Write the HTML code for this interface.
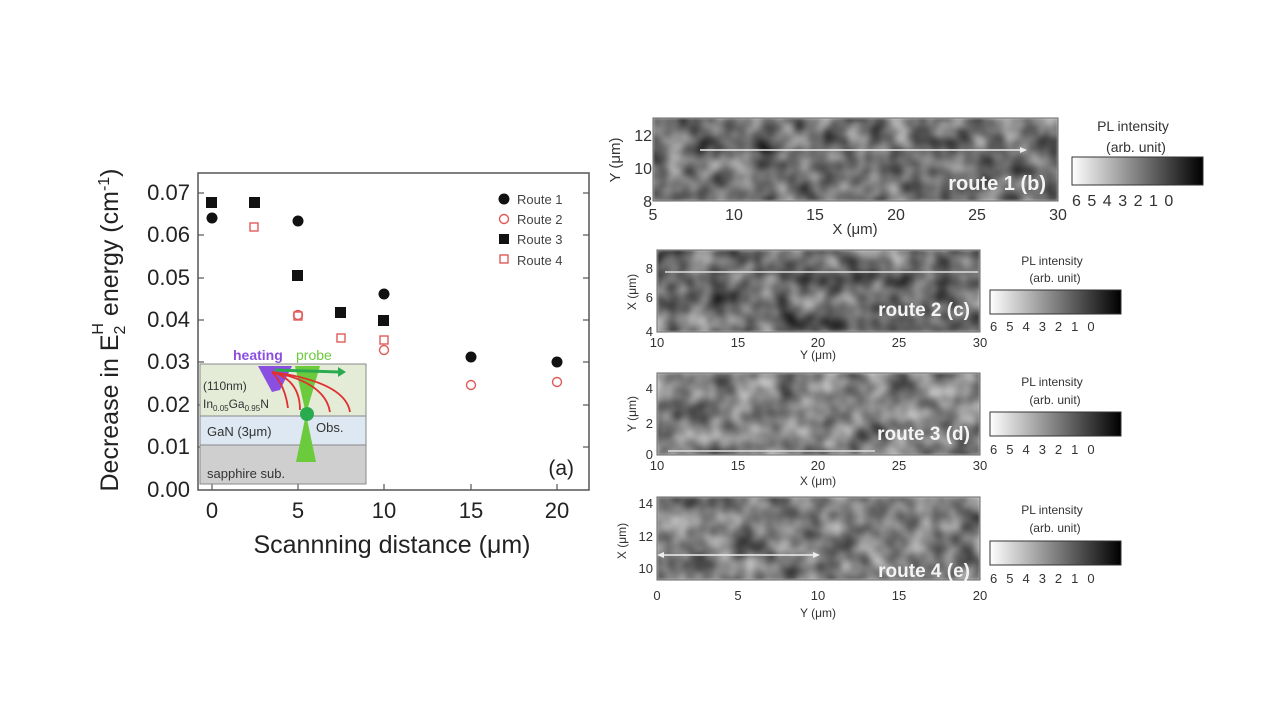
<!DOCTYPE html>
<html><head><meta charset="utf-8"><style>
html,body{margin:0;padding:0;background:#fff;}
svg{display:block;font-family:"Liberation Sans",Arial,sans-serif;}
</style></head><body>
<svg width="1280" height="720" viewBox="0 0 1280 720" xmlns="http://www.w3.org/2000/svg">
<defs>
<filter id="noise" x="0" y="0" width="100%" height="100%" color-interpolation-filters="sRGB">
<feTurbulence type="fractalNoise" baseFrequency="0.045" numOctaves="2" seed="5" result="t"/>
<feColorMatrix in="t" type="matrix" values="0.8 0 0 0 0.04  0.8 0 0 0 0.04  0.8 0 0 0 0.04  0 0 0 0 1" result="c"/>
<feGaussianBlur in="c" stdDeviation="1.3"/>
</filter>
<filter id="noise2" x="0" y="0" width="100%" height="100%" color-interpolation-filters="sRGB">
<feTurbulence type="fractalNoise" baseFrequency="0.045" numOctaves="2" seed="11" result="t"/>
<feColorMatrix in="t" type="matrix" values="0.8 0 0 0 0.02  0.8 0 0 0 0.02  0.8 0 0 0 0.02  0 0 0 0 1" result="c"/>
<feGaussianBlur in="c" stdDeviation="1.3"/>
</filter>
<filter id="noise3" x="0" y="0" width="100%" height="100%" color-interpolation-filters="sRGB">
<feTurbulence type="fractalNoise" baseFrequency="0.045" numOctaves="2" seed="21" result="t"/>
<feColorMatrix in="t" type="matrix" values="0.8 0 0 0 0.1  0.8 0 0 0 0.1  0.8 0 0 0 0.1  0 0 0 0 1" result="c"/>
<feGaussianBlur in="c" stdDeviation="1.3"/>
</filter>
<filter id="noise4" x="0" y="0" width="100%" height="100%" color-interpolation-filters="sRGB">
<feTurbulence type="fractalNoise" baseFrequency="0.045" numOctaves="2" seed="33" result="t"/>
<feColorMatrix in="t" type="matrix" values="0.8 0 0 0 0.08  0.8 0 0 0 0.08  0.8 0 0 0 0.08  0 0 0 0 1" result="c"/>
<feGaussianBlur in="c" stdDeviation="1.3"/>
</filter>
<linearGradient id="cb" x1="0" x2="1"><stop offset="0" stop-color="#fff"/><stop offset="1" stop-color="#000"/></linearGradient>
</defs>

<!-- Left chart -->
<rect x="198" y="173" width="391" height="317" fill="none" stroke="#555" stroke-width="1.5"/>
<g stroke="#555" stroke-width="1.2">
<line x1="198" y1="193" x2="204" y2="193"/><line x1="198" y1="235" x2="204" y2="235"/>
<line x1="198" y1="278" x2="204" y2="278"/><line x1="198" y1="320" x2="204" y2="320"/>
<line x1="198" y1="362" x2="204" y2="362"/><line x1="198" y1="405" x2="204" y2="405"/>
<line x1="198" y1="447" x2="204" y2="447"/>
<line x1="589" y1="193" x2="583" y2="193"/><line x1="589" y1="235" x2="583" y2="235"/>
<line x1="589" y1="278" x2="583" y2="278"/><line x1="589" y1="320" x2="583" y2="320"/>
<line x1="589" y1="362" x2="583" y2="362"/><line x1="589" y1="405" x2="583" y2="405"/>
<line x1="589" y1="447" x2="583" y2="447"/>
<line x1="212" y1="490" x2="212" y2="484"/><line x1="298" y1="490" x2="298" y2="484"/>
<line x1="384" y1="490" x2="384" y2="484"/><line x1="471" y1="490" x2="471" y2="484"/>
<line x1="557" y1="490" x2="557" y2="484"/>
</g>
<g font-size="22" fill="#222" text-anchor="end">
<text x="190" y="200">0.07</text><text x="190" y="242">0.06</text><text x="190" y="285">0.05</text>
<text x="190" y="327">0.04</text><text x="190" y="369">0.03</text><text x="190" y="412">0.02</text>
<text x="190" y="454">0.01</text><text x="190" y="497">0.00</text>
</g>
<g font-size="22" fill="#222" text-anchor="middle">
<text x="212" y="518">0</text><text x="298" y="518">5</text><text x="384" y="518">10</text>
<text x="471" y="518">15</text><text x="557" y="518">20</text>
</g>
<text x="392" y="553" font-size="25" fill="#222" text-anchor="middle">Scannning distance (μm)</text>
<text transform="translate(118,330) rotate(-90)" font-size="25" fill="#222" text-anchor="middle">Decrease in E<tspan font-size="16" dy="7">2</tspan><tspan font-size="16" dx="-9" dy="-22">H</tspan><tspan dy="15"> energy (cm</tspan><tspan font-size="16" dy="-9">-1</tspan><tspan dy="9">)</tspan></text>

<!-- inset -->
<rect x="200" y="364" width="166" height="52" fill="#e4ecd8" stroke="#888"/>
<rect x="200" y="416" width="166" height="29" fill="#dde8f2" stroke="#888"/>
<rect x="200" y="445" width="166" height="39" fill="#cfcfcf" stroke="#888"/>
<polygon points="258,366 292,366 280,390 272,392" fill="#8a4fe0"/>
<polygon points="295,366 320,366 306,414" fill="#6ccb3c"/>
<polygon points="306,414 296,462 316,462" fill="#6ccb3c"/>
<circle cx="307" cy="414" r="7" fill="#2bab50"/>
<line x1="275" y1="370" x2="340" y2="372" stroke="#2bab50" stroke-width="3"/>
<polygon points="338,367 346,372 338,377" fill="#2bab50"/>
<g stroke="#e03030" fill="none" stroke-width="1.8">
<path d="M272,372 Q300,380 300,410"/><path d="M272,372 Q325,382 330,412"/><path d="M272,372 Q345,382 350,412"/><path d="M272,372 Q285,385 288,408"/>
</g>
<text x="233" y="360" font-size="14" font-weight="bold" fill="#8a4fe0">heating</text>
<text x="296" y="360" font-size="14" fill="#6ccb3c">probe</text>
<text x="203" y="390" font-size="12" fill="#333">(110nm)</text>
<text x="203" y="408" font-size="12" fill="#333">In<tspan font-size="8" dy="3">0.05</tspan><tspan dy="-3">Ga</tspan><tspan font-size="8" dy="3">0.95</tspan><tspan dy="-3">N</tspan></text>
<text x="207" y="436" font-size="13" fill="#333">GaN (3μm)</text>
<text x="316" y="432" font-size="13" fill="#333">Obs.</text>
<text x="207" y="478" font-size="13" fill="#333">sapphire sub.</text>
<text x="574" y="475" font-size="21" fill="#222" text-anchor="end">(a)</text>

<!-- data -->
<g fill="#111">
<rect x="206" y="197" width="11" height="11"/><rect x="249" y="197" width="11" height="11"/>
<rect x="292" y="270" width="11" height="11"/><rect x="335" y="307" width="11" height="11"/>
<rect x="378" y="315" width="11" height="11"/>
<circle cx="212" cy="218" r="5.5"/><circle cx="298" cy="221" r="5.5"/><circle cx="384" cy="294" r="5.5"/>
<circle cx="471" cy="357" r="5.5"/><circle cx="557" cy="362" r="5.5"/>
</g>
<g fill="none" stroke="#e05a5a" stroke-width="1.4">
<circle cx="298" cy="315" r="4.5"/><circle cx="384" cy="350" r="4.5"/><circle cx="471" cy="385" r="4.5"/><circle cx="557" cy="382" r="4.5"/>
<rect x="250" y="223" width="8" height="8"/><rect x="294" y="312" width="8" height="8"/>
<rect x="337" y="334" width="8" height="8"/><rect x="380" y="336" width="8" height="8"/>
</g>
<!-- legend -->
<circle cx="504" cy="199" r="5.5" fill="#111"/>
<circle cx="504" cy="219" r="4.5" fill="none" stroke="#e05a5a" stroke-width="1.4"/>
<rect x="499" y="234" width="10" height="10" fill="#111"/>
<rect x="500" y="255" width="8" height="8" fill="none" stroke="#e05a5a" stroke-width="1.4"/>
<g font-size="13" fill="#444">
<text x="517" y="204">Route 1</text><text x="517" y="224">Route 2</text>
<text x="517" y="244">Route 3</text><text x="517" y="265">Route 4</text>
</g>

<!-- Map b -->
<rect x="653" y="118" width="405" height="83" fill="#777" filter="url(#noise)"/>
<rect x="653" y="118" width="405" height="83" fill="none" stroke="#666"/>
<line x1="700" y1="150" x2="1022" y2="150" stroke="#eee" stroke-width="1.5"/>
<polygon points="1020,147 1027,150 1020,153" fill="#eee"/>
<text x="1046" y="190" font-size="20" font-weight="bold" fill="#f4f4f4" text-anchor="end">route 1 (b)</text>
<g font-size="16" fill="#333" text-anchor="end"><text x="652" y="141">12</text><text x="652" y="174">10</text><text x="652" y="207">8</text></g>
<g font-size="16" fill="#333" text-anchor="middle"><text x="653" y="220">5</text><text x="734" y="220">10</text><text x="815" y="220">15</text><text x="896" y="220">20</text><text x="977" y="220">25</text><text x="1058" y="220">30</text></g>
<text x="855" y="234" font-size="15" fill="#333" text-anchor="middle">X (μm)</text>
<text transform="translate(620,160) rotate(-90)" font-size="15" fill="#333" text-anchor="middle">Y (μm)</text>
<rect x="1072" y="157" width="131" height="28" fill="url(#cb)" stroke="#333"/>
<text x="1133" y="131" font-size="14" fill="#333" text-anchor="middle">PL intensity</text>
<text x="1136" y="152" font-size="14" fill="#333" text-anchor="middle">(arb. unit)</text>
<text x="1072" y="206" font-size="16" fill="#333" letter-spacing="6.5">6543210</text>

<!-- Map c -->
<rect x="657" y="250" width="323" height="82" fill="#777" filter="url(#noise2)"/>
<rect x="657" y="250" width="323" height="82" fill="none" stroke="#666"/>
<line x1="665" y1="272" x2="978" y2="272" stroke="#ddd" stroke-width="1.5"/>
<text x="970" y="316" font-size="19" font-weight="bold" fill="#f4f4f4" text-anchor="end">route 2 (c)</text>
<g font-size="13" fill="#333" text-anchor="end"><text x="653" y="273">8</text><text x="653" y="302">6</text><text x="653" y="336">4</text></g>
<g font-size="13" fill="#333" text-anchor="middle"><text x="657" y="347">10</text><text x="738" y="347">15</text><text x="818" y="347">20</text><text x="899" y="347">25</text><text x="980" y="347">30</text></g>
<text x="818" y="359" font-size="12" fill="#333" text-anchor="middle">Y (μm)</text>
<text transform="translate(636,292) rotate(-90)" font-size="12" fill="#333" text-anchor="middle">X (μm)</text>
<rect x="990" y="290" width="131" height="24" fill="url(#cb)" stroke="#333"/>
<text x="1052" y="265" font-size="12" fill="#333" text-anchor="middle">PL intensity</text>
<text x="1055" y="282" font-size="12" fill="#333" text-anchor="middle">(arb. unit)</text>
<text x="990" y="331" font-size="13" fill="#333" letter-spacing="9">6543210</text>

<!-- Map d -->
<rect x="657" y="373" width="323" height="82" fill="#888" filter="url(#noise3)"/>
<rect x="657" y="373" width="323" height="82" fill="none" stroke="#666"/>
<line x1="668" y1="451" x2="875" y2="451" stroke="#ddd" stroke-width="1.5"/>
<text x="970" y="440" font-size="19" font-weight="bold" fill="#f4f4f4" text-anchor="end">route 3 (d)</text>
<g font-size="13" fill="#333" text-anchor="end"><text x="653" y="393">4</text><text x="653" y="428">2</text><text x="653" y="459">0</text></g>
<g font-size="13" fill="#333" text-anchor="middle"><text x="657" y="470">10</text><text x="738" y="470">15</text><text x="818" y="470">20</text><text x="899" y="470">25</text><text x="980" y="470">30</text></g>
<text x="818" y="485" font-size="12" fill="#333" text-anchor="middle">X (μm)</text>
<text transform="translate(636,414) rotate(-90)" font-size="12" fill="#333" text-anchor="middle">Y (μm)</text>
<rect x="990" y="412" width="131" height="24" fill="url(#cb)" stroke="#333"/>
<text x="1052" y="386" font-size="12" fill="#333" text-anchor="middle">PL intensity</text>
<text x="1055" y="404" font-size="12" fill="#333" text-anchor="middle">(arb. unit)</text>
<text x="990" y="454" font-size="13" fill="#333" letter-spacing="9">6543210</text>

<!-- Map e -->
<rect x="657" y="497" width="323" height="83" fill="#888" filter="url(#noise4)"/>
<rect x="657" y="497" width="323" height="83" fill="none" stroke="#666"/>
<line x1="660" y1="555" x2="815" y2="555" stroke="#eee" stroke-width="1.5"/>
<polygon points="813,552 820,555 813,558" fill="#eee"/>
<polygon points="664,552 657,555 664,558" fill="#eee"/>
<text x="970" y="577" font-size="19" font-weight="bold" fill="#f4f4f4" text-anchor="end">route 4 (e)</text>
<g font-size="13" fill="#333" text-anchor="end"><text x="653" y="508">14</text><text x="653" y="541">12</text><text x="653" y="573">10</text></g>
<g font-size="13" fill="#333" text-anchor="middle"><text x="657" y="600">0</text><text x="738" y="600">5</text><text x="818" y="600">10</text><text x="899" y="600">15</text><text x="980" y="600">20</text></g>
<text x="818" y="617" font-size="12" fill="#333" text-anchor="middle">Y (μm)</text>
<text transform="translate(626,541) rotate(-90)" font-size="12" fill="#333" text-anchor="middle">X (μm)</text>
<rect x="990" y="541" width="131" height="24" fill="url(#cb)" stroke="#333"/>
<text x="1052" y="514" font-size="12" fill="#333" text-anchor="middle">PL intensity</text>
<text x="1055" y="532" font-size="12" fill="#333" text-anchor="middle">(arb. unit)</text>
<text x="990" y="583" font-size="13" fill="#333" letter-spacing="9">6543210</text>
</svg>
</body></html>
